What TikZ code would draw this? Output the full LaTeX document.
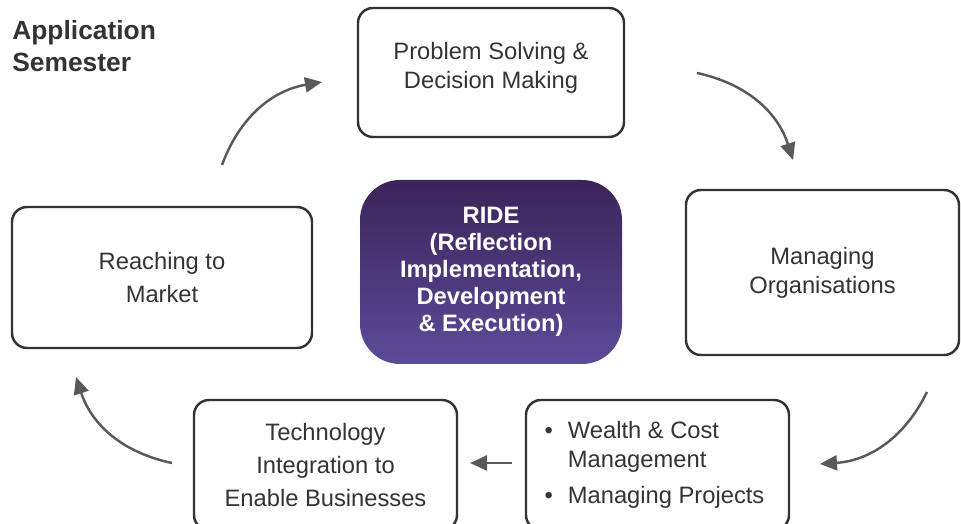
\documentclass[tikz,border=0pt]{standalone}
\usepackage{fontspec}
\setmainfont{Liberation Sans}
\usetikzlibrary{positioning}
\usetikzlibrary{arrows.meta}
\definecolor{ink}{HTML}{333333}
\definecolor{arrowgray}{HTML}{595959}
\definecolor{ridetop}{HTML}{3B2459}
\definecolor{ridebot}{HTML}{5B4B99}

\tikzset{
  stage/.style={draw=ink, line width=1.4pt, rounded corners=0.3cm, text=ink, align=center,
    font=\fontsize{13.5}{16.5}\selectfont, inner sep=0pt},
  core/.style={rounded corners=0.8cm, top color=ridetop, bottom color=ridebot, text=white,
    align=center, font=\fontsize{13.5}{15.3}\selectfont\bfseries, inner sep=0pt},
  turn/.style={-{Triangle[length=0.34cm,width=0.3cm]}, line width=1.4pt, color=arrowgray}
}

\begin{document}
\begin{tikzpicture}
\useasboundingbox (0,0) rectangle (19.22,10.48);

\node[anchor=west, align=left, inner sep=0pt, text=ink, font=\fontsize{15}{18}\selectfont\bfseries] (title) at (0.24,9.56) {Application\\Semester};

\node[stage, minimum width=5.32cm, minimum height=2.58cm] (solving) at (9.82,9.03) {\raisebox{0.09cm}[\height][\depth]{\begin{tabular}{@{}c@{}}Problem Solving \&\\Decision Making\end{tabular}}};
\node[stage, minimum width=6.0cm, minimum height=2.82cm, font=\fontsize{13.5}{19.3}\selectfont] (market) at (3.24,4.93) {Reaching to\\Market};
\node[stage, minimum width=5.46cm, minimum height=3.3cm] (orgs) at (16.45,5.03) {Managing\\Organisations};
\node[core, minimum width=5.24cm, minimum height=3.68cm] (ride) at (9.82,5.04) {RIDE\\(Reflection\\Implementation,\\Development\\\& Execution)};
\node[stage, minimum width=5.26cm, minimum height=2.6cm, font=\fontsize{13.5}{18.7}\selectfont] (tech) at (6.51,1.18) {Technology\\Integration to\\Enable Businesses};
\node[stage, minimum width=5.26cm, minimum height=2.6cm] (wealth) at (13.15,1.18) {%
  \begin{tabular}{@{}l@{\hspace{0.3cm}}l@{}}
  \textbullet & Wealth \& Cost\\
   & Management\\[4pt]
  \textbullet & Managing Projects
  \end{tabular}\hspace{0.12cm}};

% loop arrows
\coordinate (a1s) at (4.44,7.18);
\coordinate (a1e) at (6.44,8.84);
\coordinate (a2s) at (13.94,9.02);
\coordinate (a2e) at (15.86,7.28);
\coordinate (a3s) at (18.54,2.64);
\coordinate (a3e) at (16.40,1.20);
\coordinate (a4s) at (10.24,1.22);
\coordinate (a4e) at (9.40,1.22);
\coordinate (a5s) at (3.44,1.22);
\coordinate (a5e) at (1.52,2.94);

\draw[turn] (a1s) to[bend left=30] (a1e);
\draw[turn] (a2s) to[bend left=30] (a2e);
\draw[turn] (a3s) to[bend left=30] (a3e);
\draw[turn] (a4s) -- (a4e);
\draw[turn] (a5s) to[bend left=30] (a5e);
\end{tikzpicture}
\end{document}
